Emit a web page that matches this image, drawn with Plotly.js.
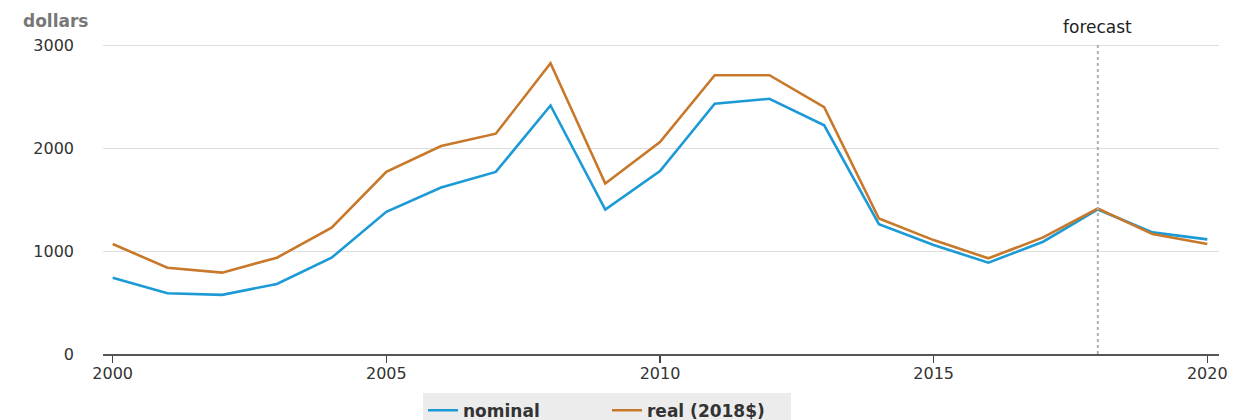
<!DOCTYPE html>
<html>
<head>
<meta charset="utf-8">
<script src="https://cdn.plot.ly/plotly-3.0.1.min.js"></script>
<style>
  html, body { margin: 0; padding: 0; background: #ffffff; }
  #chart { width: 1234px; height: 420px; }
</style>
</head>
<body>
<div id="chart"></div>
<script>
const years = [2000, 2001, 2002, 2003, 2004, 2005, 2006, 2007, 2008, 2009, 2010,
               2011, 2012, 2013, 2014, 2015, 2016, 2017, 2018, 2019, 2020];
const nominal = [741, 590, 574, 680, 935, 1380, 1617, 1768, 2413, 1403, 1777,
                 2430, 2478, 2220, 1261, 1058, 887, 1090, 1403, 1181, 1113];
const real2018 = [1068, 838, 790, 935, 1226, 1768, 2020, 2139, 2823, 1655, 2058,
                  2707, 2707, 2397, 1316, 1106, 929, 1132, 1413, 1164, 1068];
const seriesNames = ["nominal", "real (2018$)"];
const yTicks = [0, 1000, 2000, 3000];
const xTicks = [2000, 2005, 2010, 2015, 2020];
const forecastYear = 2018;
const unitLabel = "dollars";
const forecastLabel = "forecast";

const FONT = "DejaVu Sans, Arial, sans-serif";

const traces = [
  { x: years, y: nominal, name: seriesNames[0], type: "scatter", mode: "lines",
    line: { color: "#1c9ad6", width: 2.6 }, hoverinfo: "x+y" },
  { x: years, y: real2018, name: seriesNames[1], type: "scatter", mode: "lines",
    line: { color: "#c8782a", width: 2.6 }, hoverinfo: "x+y" }
];

const layout = {
  width: 1234, height: 420,
  margin: { l: 103, r: 15, t: 44, b: 66, autoexpand: false },
  paper_bgcolor: "#ffffff",
  plot_bgcolor: "#ffffff",
  font: { family: FONT, color: "#333333", size: 16 },
  showlegend: true,
  xaxis: {
    range: [1999.823, 2020.214],
    tickvals: xTicks,
    ticktext: xTicks.map(String),
    ticks: "outside", ticklen: 7, tickwidth: 1.5, tickcolor: "#444444",
    showline: true, linecolor: "#555555", linewidth: 1.5,
    showgrid: false, zeroline: false,
    ticklabelstandoff: -3,
    tickfont: { family: FONT, size: 16, color: "#333333" }
  },
  yaxis: {
    range: [0, 3010],
    tickvals: yTicks,
    ticktext: yTicks.map(String),
    showgrid: true, gridcolor: "#dedede", gridwidth: 1,
    showline: false, zeroline: false, ticks: "",
    ticklabelstandoff: 28,
    tickfont: { family: FONT, size: 16, color: "#333333" }
  },
  legend: {
    orientation: "h",
    x: 0.4516, xanchor: "center",
    y: -0.125, yanchor: "top",
    bgcolor: "#ececec",
    font: { family: FONT, size: 17, color: "#333333", weight: "bold" },
    itemwidth: 30,
    entrywidth: 139,
    tracegroupgap: 0
  },
  shapes: [
    { type: "line", xref: "x", yref: "paper", x0: forecastYear, x1: forecastYear,
      y0: 0, y1: 1, line: { color: "#b0b0b0", width: 2, dash: "dot" } }
  ],
  annotations: [
    { text: unitLabel, xref: "paper", yref: "paper", x: -0.0735, y: 1.074,
      xanchor: "left", yanchor: "middle", showarrow: false,
      font: { family: FONT, size: 17, color: "#777777", weight: "bold" } },
    { text: forecastLabel, xref: "x", yref: "paper", x: forecastYear, y: 1.055,
      xanchor: "center", yanchor: "middle", showarrow: false,
      font: { family: FONT, size: 17, color: "#222222" } }
  ]
};

Plotly.newPlot("chart", traces, layout, { displayModeBar: false, staticPlot: true });
</script>
</body>
</html>
